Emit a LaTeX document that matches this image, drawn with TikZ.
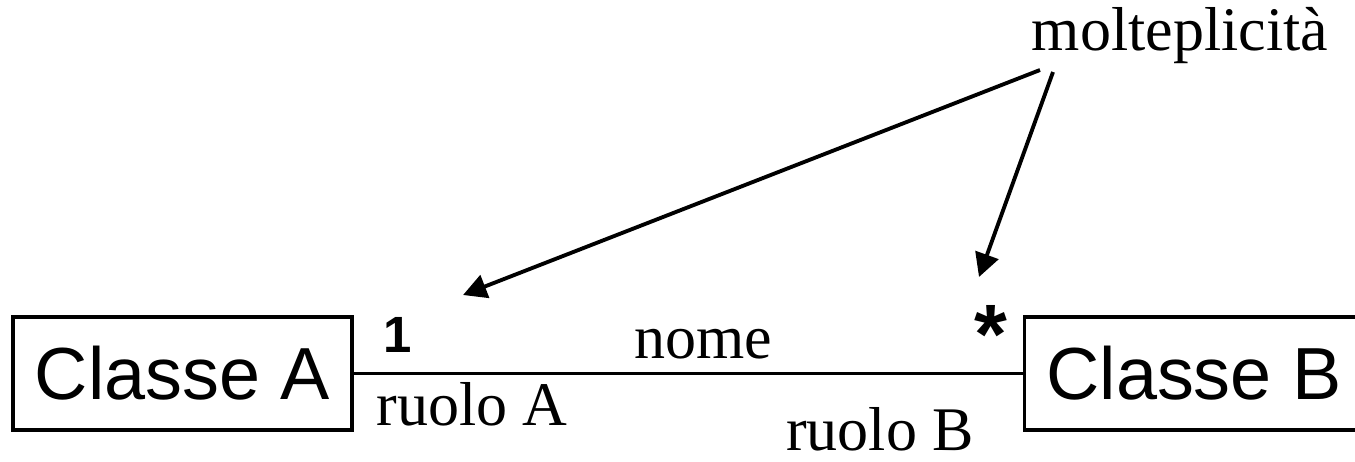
\documentclass[tikz,border=0pt]{standalone}
\usepackage{fontspec}
\setmainfont{Liberation Serif}
\setsansfont{Liberation Sans}
\usetikzlibrary{arrows.meta, positioning}
\tikzset{
  cls/.style ={rectangle, draw=black, line width=1.9pt, minimum width=6.78cm,
               minimum height=2.26cm, inner sep=0pt, font=\sffamily\fontsize{42}{42}\selectfont},
  lbl/.style ={anchor=base, inner sep=0pt, font=\fontsize{35.3}{36}\selectfont},
  mul/.style ={anchor=base, inner sep=0pt, font=\sffamily\bfseries\fontsize{29}{29}\selectfont},
  arr/.style ={-{Triangle[length=0.47cm, width=0.48cm]}, line width=2.2pt}
}
\begin{document}
\begin{tikzpicture}[x=0.02cm, y=-0.02cm]
  \useasboundingbox (0,0) rectangle (1355,461);
  \node[cls] (classA) at (182.5,373.5) {Classe A};
  \node[cls] (classB) at (1194,373.5) {Classe B};
  \draw[line width=2pt] (classA) -- (classB);
  \node[mul] (one) at (398,352) {1};
  \node[mul, font=\sffamily\bfseries\fontsize{48}{48}\selectfont] (star) at (991,363) {*};
  \node[lbl] (nome) at (703,358) {nome};
  \node[lbl] (ruoloA) at (472,425) {ruolo A};
  \node[lbl] (ruoloB) at (880,450) {ruolo B};
  \node[lbl] (molt) at (1180,50) {molteplicità};
  \coordinate (mA) at (1040,70);
  \coordinate (mB) at (1053,72);
  \coordinate (tipA) at (463,295);
  \coordinate (tipB) at (979,277);
  \draw[arr] (mA) -- (tipA);
  \draw[arr] (mB) -- (tipB);
\end{tikzpicture}
\end{document}
